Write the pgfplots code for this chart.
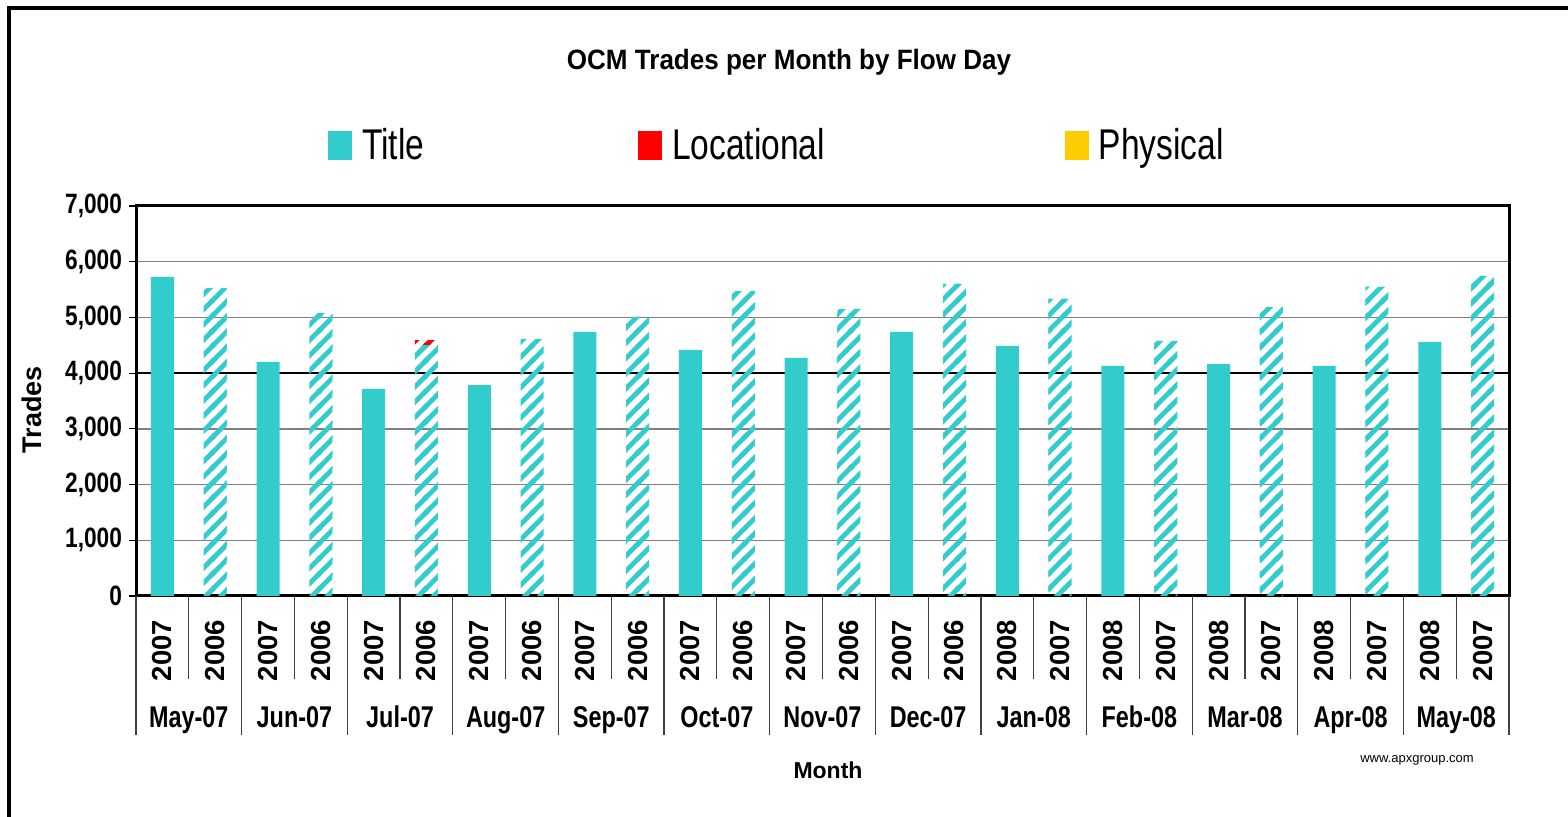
\documentclass[border=0pt]{standalone}
\usepackage{fontspec}
\setmainfont{Liberation Sans}
\newfontfamily\fA[FakeStretch=0.93]{Liberation Sans}
\newfontfamily\fB[FakeStretch=0.81]{Liberation Sans}
\newfontfamily\fC[FakeStretch=0.78]{Liberation Sans}
\usepackage{pgfplots}
\pgfplotsset{compat=1.18}
\usetikzlibrary{patterns}
\definecolor{tcyan}{RGB}{51,204,204}
\definecolor{tred}{RGB}{255,0,0}
\definecolor{tyellow}{RGB}{255,204,0}
\definecolor{gridgray}{RGB}{128,128,128}
\pgfdeclarepatternformonly{wstripes}{\pgfqpoint{-1pt}{-1pt}}{\pgfqpoint{8.6pt}{8.6pt}}{\pgfqpoint{7.6pt}{7.6pt}}{%
  \pgfsetlinewidth{2.4pt}%
  \pgfpathmoveto{\pgfqpoint{-1pt}{-1pt}}\pgfpathlineto{\pgfqpoint{8.6pt}{8.6pt}}%
  \pgfpathmoveto{\pgfqpoint{-1pt}{6.6pt}}\pgfpathlineto{\pgfqpoint{1pt}{8.6pt}}%
  \pgfpathmoveto{\pgfqpoint{6.6pt}{-1pt}}\pgfpathlineto{\pgfqpoint{8.6pt}{1pt}}%
  \pgfusepath{stroke}}
\newcommand\titlefont{\fA\bfseries\fontsize{14}{16}\selectfont}
\newcommand\legfont{\fC\fontsize{21.5}{24}\selectfont}
\newcommand\ytfont{\fB\bfseries\fontsize{14}{16}\selectfont}
\newcommand\yearfont{\bfseries\fontsize{13.75}{16}\selectfont}
\newcommand\monthfont{\fC\bfseries\fontsize{15}{17}\selectfont}
\begin{document}
\begin{tikzpicture}
\useasboundingbox (0,0) rectangle (784pt,408.5pt);
\draw[line width=2pt] (4.7pt,-5pt) -- (4.7pt,404.5pt) -- (790pt,404.5pt);
\begin{axis}[
  at={(68pt,110.5pt)}, anchor=south west,
  width=686.5pt, height=195pt, scale only axis,
  xmin=-0.5, xmax=25.5, ymin=0, ymax=7000,
  enlarge x limits=false, enlarge y limits=false,
  ybar stacked, bar width=11.5pt,
  clip=false,
  xtick={0,...,25},
  xticklabels={2007,2006,2007,2006,2007,2006,2007,2006,2007,2006,2007,2006,2007,2006,2007,2006,2008,2007,2008,2007,2008,2007,2008,2007,2008,2007},
  xtick style={draw=none},
  xticklabel style={rotate=90, anchor=east, font=\yearfont, xshift=-5pt},
  ytick={0,1000,...,7000},
  ytick pos=left,
  tick align=outside, major tick length=3.5pt,
  ytick style={black, line width=0.6pt},
  /pgf/number format/1000 sep={,},
  /pgf/number format/assume math mode=true,
  yticklabel style={font=\ytfont},
  ymajorgrids, grid style={gridgray, line width=0.75pt},
  extra y ticks={4000}, extra y tick labels={},
  extra y tick style={grid style={black, line width=0.75pt}},
  axis line style={line width=1.5pt},
  title={OCM Trades per Month by Flow Day},
  title style={at={(rel axis cs:0.4756,1.338)}, anchor=center, font=\titlefont},
  xlabel={Month},
  xlabel style={at={(rel axis cs:0.504,-0.446)}, anchor=center, font=\bfseries\fontsize{11.5}{13}\selectfont},
  ylabel={Trades},
  ylabel style={at={(rel axis cs:-0.0757,0.477)}, anchor=center, font=\bfseries\fontsize{13.5}{15}\selectfont},
  legend columns=3,
  legend style={at={(rel axis cs:0.1355,1.156)}, anchor=west, draw=none, fill=none, font=\legfont,
    /tikz/every odd column/.append style={column sep=3pt},
    /tikz/column 2/.style={column sep=105pt},
    /tikz/column 4/.style={column sep=118pt}},
  legend cell align=left,
]
\addlegendimage{legend image code/.code={\fill[tcyan] (0pt,-7pt) rectangle (11.5pt,7pt);}}
\addlegendentry{Title}
\addlegendimage{legend image code/.code={\fill[tred] (0pt,-7pt) rectangle (11.5pt,7pt);}}
\addlegendentry{Locational}
\addlegendimage{legend image code/.code={\fill[tyellow] (0pt,-7pt) rectangle (11.5pt,7pt);}}
\addlegendentry{Physical}
% Title, current-year flow day (solid)
\addplot[fill=tcyan, draw=none, forget plot] coordinates {
(0,5726) (1,0) (2,4200) (3,0) (4,3716) (5,0) (6,3787) (7,0) (8,4739) (9,0)
(10,4416) (11,0) (12,4272) (13,0) (14,4739) (15,0) (16,4488) (17,0) (18,4129) (19,0)
(20,4164) (21,0) (22,4129) (23,0) (24,4559) (25,0)};
% Title, previous-year flow day (hatched)
\addplot[pattern=wstripes, pattern color=tcyan, draw=none, forget plot] coordinates {
(0,0) (1,5529) (2,0) (3,5080) (4,0) (5,4505) (6,0) (7,4613) (8,0) (9,5008)
(10,0) (11,5475) (12,0) (13,5152) (14,0) (15,5600) (16,0) (17,5331) (18,0) (19,4577)
(20,0) (21,5187) (22,0) (23,5547) (24,0) (25,5744)};
% Locational (hatched)
\addplot[pattern=wstripes, pattern color=tred, draw=none, forget plot] coordinates {
(0,0) (1,0) (2,0) (3,0) (4,0) (5,72) (6,0) (7,0) (8,0) (9,0)
(10,0) (11,0) (12,0) (13,0) (14,0) (15,0) (16,0) (17,0) (18,0) (19,0)
(20,0) (21,0) (22,0) (23,0) (24,0) (25,0)};
% separators
\pgfplotsinvokeforeach{-0.5,1.5,...,25.5}{\draw[black!75, line width=0.6pt] (axis cs:#1,0) -- ++(0pt,-69.5pt);}
\pgfplotsinvokeforeach{0.5,2.5,...,24.5}{\draw[black!75, line width=0.6pt] (axis cs:#1,0) -- ++(0pt,-41.5pt);}
% month labels
\node[anchor=base, font=\monthfont, yshift=-66pt] at (axis cs:0.5,0) {May-07};
\node[anchor=base, font=\monthfont, yshift=-66pt] at (axis cs:2.5,0) {Jun-07};
\node[anchor=base, font=\monthfont, yshift=-66pt] at (axis cs:4.5,0) {Jul-07};
\node[anchor=base, font=\monthfont, yshift=-66pt] at (axis cs:6.5,0) {Aug-07};
\node[anchor=base, font=\monthfont, yshift=-66pt] at (axis cs:8.5,0) {Sep-07};
\node[anchor=base, font=\monthfont, yshift=-66pt] at (axis cs:10.5,0) {Oct-07};
\node[anchor=base, font=\monthfont, yshift=-66pt] at (axis cs:12.5,0) {Nov-07};
\node[anchor=base, font=\monthfont, yshift=-66pt] at (axis cs:14.5,0) {Dec-07};
\node[anchor=base, font=\monthfont, yshift=-66pt] at (axis cs:16.5,0) {Jan-08};
\node[anchor=base, font=\monthfont, yshift=-66pt] at (axis cs:18.5,0) {Feb-08};
\node[anchor=base, font=\monthfont, yshift=-66pt] at (axis cs:20.5,0) {Mar-08};
\node[anchor=base, font=\monthfont, yshift=-66pt] at (axis cs:22.5,0) {Apr-08};
\node[anchor=base, font=\monthfont, yshift=-66pt] at (axis cs:24.5,0) {May-08};
\end{axis}
\node[font=\fontsize{6.5}{8}\selectfont] at (708.5pt,28.5pt) {www.apxgroup.com};
\end{tikzpicture}
\end{document}
